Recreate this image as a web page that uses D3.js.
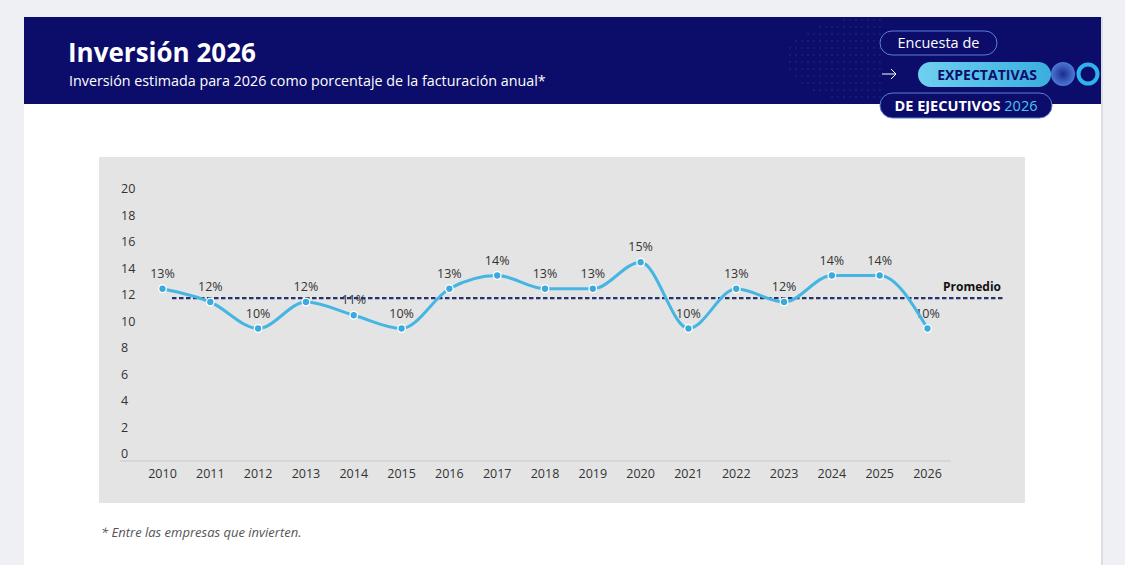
<!DOCTYPE html>
<html>
<head>
<meta charset="utf-8">
<script src="https://cdn.jsdelivr.net/npm/d3@7"></script>
<style>
  html, body { margin: 0; padding: 0; background: #eff0f4; }
  svg { display: block; font-family: "Open Sans", "Noto Sans", sans-serif; }
</style>
</head>
<body>
<svg width="1125" height="565"></svg>
<script>
const years = ["2010","2011","2012","2013","2014","2015","2016","2017","2018","2019","2020","2021","2022","2023","2024","2025","2026"];
const values = [13, 12, 10, 12, 11, 10, 13, 14, 13, 13, 15, 10, 13, 12, 14, 14, 10];
const yTicks = [0, 2, 4, 6, 8, 10, 12, 14, 16, 18, 20];
const average = d3.mean(values);

const width = 1125;
const height = 565;
const svg = d3.select("svg").attr("viewBox", `0 0 ${width} ${height}`);

const navy = "#0c0d6b";
const lineColor = "#45b6e3";

// card + header
svg.append("rect").attr("x", 24).attr("y", 17).attr("width", 1077).attr("height", 560).attr("fill", "#fff");
svg.append("rect").attr("x", 1101).attr("y", 17).attr("width", 2).attr("height", 560).attr("fill", "#dcdde3");
svg.append("rect").attr("x", 24).attr("y", 17).attr("width", 1077).attr("height", 87).attr("fill", navy);

svg.append("text").attr("x", 68).attr("y", 62)
  .attr("fill", "#fff").attr("font-size", 26).attr("font-weight", 700)
  .text("Inversión 2026");
svg.append("text").attr("x", 69).attr("y", 86)
  .attr("fill", "#fff").attr("font-size", 14.3)
  .text("Inversión estimada para 2026 como porcentaje de la facturación anual*");

// dotted texture behind the logo
const dots = svg.append("g").attr("fill", "#4a5ab0").attr("opacity", 0.55);
d3.range(0, 16).forEach(i => {
  d3.range(0, 12).forEach(j => {
    const x = 790 + i * 6, y = 20 + j * 7;
    if ((x - 885) * (x - 885) / 10000 + (y - 60) * (y - 60) / 2000 < 1) {
      dots.append("circle").attr("cx", x).attr("cy", y).attr("r", 0.7);
    }
  });
});

// logo pills
const logo = svg.append("g");
logo.append("rect").attr("x", 880).attr("y", 31).attr("width", 117).attr("height", 24).attr("rx", 12)
  .attr("fill", navy).attr("stroke", "#5c7fd6").attr("stroke-width", 1);
logo.append("text").attr("x", 938.5).attr("y", 48).attr("text-anchor", "middle")
  .attr("fill", "#fff").attr("font-size", 14.5).text("Encuesta de");

logo.append("path").attr("d", "M882,74 H896 M891,69 L896,74 L891,79")
  .attr("fill", "none").attr("stroke", "#fff").attr("stroke-width", 1);

const grad = svg.append("defs").append("linearGradient").attr("id", "pill");
grad.append("stop").attr("offset", "0%").attr("stop-color", "#6fd0f0");
grad.append("stop").attr("offset", "100%").attr("stop-color", "#3aaedf");
logo.append("rect").attr("x", 918).attr("y", 62).attr("width", 133).attr("height", 25).attr("rx", 12.5)
  .attr("fill", "url(#pill)");
logo.append("text").attr("x", 987).attr("y", 80).attr("text-anchor", "middle")
  .attr("fill", navy).attr("font-size", 14).attr("font-weight", 700).text("EXPECTATIVAS");

const rg = svg.select("defs").append("radialGradient").attr("id", "ball");
rg.append("stop").attr("offset", "0%").attr("stop-color", "#1d2b8c");
rg.append("stop").attr("offset", "100%").attr("stop-color", "#4a7ad6");
logo.append("circle").attr("cx", 1063).attr("cy", 74).attr("r", 12).attr("fill", "url(#ball)");
logo.append("circle").attr("cx", 1088).attr("cy", 74).attr("r", 9.5).attr("fill", navy)
  .attr("stroke", "#2fb3ec").attr("stroke-width", 4);

logo.append("rect").attr("x", 880).attr("y", 93).attr("width", 172).attr("height", 25).attr("rx", 12.5)
  .attr("fill", navy).attr("stroke", "#5c7fd6").attr("stroke-width", 1);
const t3 = logo.append("text").attr("x", 966).attr("y", 111).attr("text-anchor", "middle")
  .attr("font-size", 14.5).attr("font-weight", 700);
t3.append("tspan").attr("fill", "#fff").text("DE EJECUTIVOS ");
t3.append("tspan").attr("fill", "#4fc3ef").attr("font-weight", 400).text("2026");

// chart panel
svg.append("rect").attr("x", 99).attr("y", 157).attr("width", 926).attr("height", 346).attr("fill", "#e4e4e4");

const x = d3.scalePoint().domain(years).range([162.5, 927.5]);
const y = d3.scaleLinear().domain([0, 20]).range([461, 196]);

const g = svg.append("g");

// y labels sit above their value position
g.selectAll(".ytick").data(yTicks).join("text")
  .attr("x", 121).attr("y", d => y(d) - 3)
  .attr("fill", "#333").attr("font-size", 12.5)
  .text(d => d);

g.append("line").attr("x1", 120).attr("x2", 951).attr("y1", y(0)).attr("y2", y(0))
  .attr("stroke", "#c8c8c8").attr("stroke-width", 1);

g.selectAll(".xtick").data(years).join("text")
  .attr("x", d => x(d)).attr("y", 478).attr("text-anchor", "middle")
  .attr("fill", "#333").attr("font-size", 12.5)
  .text(d => d);

// data labels
g.selectAll(".lbl").data(values).join("text")
  .attr("x", (d, i) => x(years[i])).attr("y", d => y(d) - 11).attr("text-anchor", "middle")
  .attr("fill", "#333").attr("font-size", 12.5)
  .text(d => d + "%");

// average line
g.append("line").attr("x1", 172).attr("x2", 1003).attr("y1", y(average)).attr("y2", y(average))
  .attr("stroke", "#22336e").attr("stroke-width", 2.4).attr("stroke-dasharray", "4.5,2.5");
g.append("text").attr("x", 1001).attr("y", y(average) - 7).attr("text-anchor", "end")
  .attr("fill", "#111").attr("font-size", 12).attr("font-weight", 700).text("Promedio");

// series line
const line = d3.line()
  .x((d, i) => x(years[i]))
  .y(d => y(d))
  .curve(d3.curveMonotoneX);
g.append("path").datum(values).attr("d", line)
  .attr("fill", "none").attr("stroke", lineColor).attr("stroke-width", 3);
g.selectAll(".pt").data(values).join("circle")
  .attr("cx", (d, i) => x(years[i])).attr("cy", d => y(d)).attr("r", 3.8)
  .attr("fill", "#3aaadd").attr("stroke", "#fff").attr("stroke-width", 1.3);

// footnote
svg.append("text").attr("x", 101).attr("y", 537)
  .attr("fill", "#555").attr("font-size", 13).attr("font-style", "italic")
  .text("* Entre las empresas que invierten.");
</script>
</body>
</html>
